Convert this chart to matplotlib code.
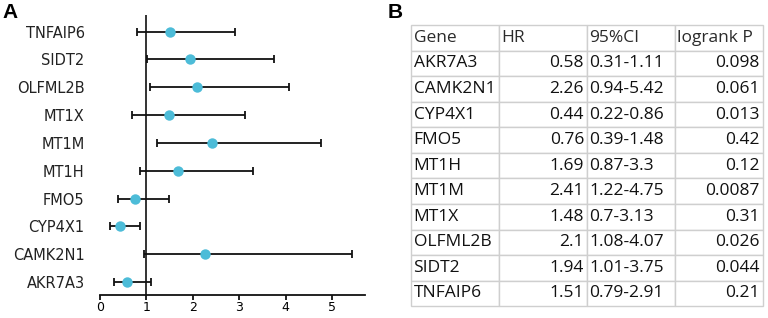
import matplotlib
matplotlib.use('Agg')
import matplotlib.pyplot as plt

genes = ['AKR7A3', 'CAMK2N1', 'CYP4X1', 'FMO5', 'MT1H', 'MT1M', 'MT1X', 'OLFML2B', 'SIDT2', 'TNFAIP6']
hr = [0.58, 2.26, 0.44, 0.76, 1.69, 2.41, 1.48, 2.1, 1.94, 1.51]
ci_low = [0.31, 0.94, 0.22, 0.39, 0.87, 1.22, 0.7, 1.08, 1.01, 0.79]
ci_high = [1.11, 5.42, 0.86, 1.48, 3.3, 4.75, 3.13, 4.07, 3.75, 2.91]
logrank_p = ['0.098', '0.061', '0.013', '0.42', '0.12', '0.0087', '0.31', '0.026', '0.044', '0.21']
header = ['Gene', 'HR', '95%CI', 'logrank P']
xticks = [0, 1, 2, 3, 4, 5]

fig = plt.figure(figsize=(7.68, 3.18), dpi=100)

# panel A: forest plot
ax = fig.add_axes([0.130, 0.072, 0.345, 0.881])
ypos = list(range(len(genes)))
xerr = [[h - l for h, l in zip(hr, ci_low)], [u - h for h, u in zip(hr, ci_high)]]
ax.errorbar(hr, ypos, xerr=xerr, fmt='none', ecolor='#111111', elinewidth=1.3,
            capsize=3, capthick=1.3, zorder=2)
ax.plot(hr, ypos, 'o', color='#4DBCD8', markersize=7.5, markeredgewidth=0, zorder=3)
ax.axvline(1, color='#111111', lw=1.2, zorder=1)
ax.set_xlim(0, 5.7)
ax.set_ylim(-0.47, 9.6)
ax.set_xticks(xticks)
ax.set_yticks(ypos)
ax.set_yticklabels(genes, fontsize=10.5, family='DejaVu Sans', color='#222222')
ax.tick_params(axis='y', length=0, pad=11)
ax.tick_params(axis='x', length=3.5, width=1.3, labelsize=9, color='#111111', pad=1)
for s in ['top', 'right', 'left']:
    ax.spines[s].set_visible(False)
ax.spines['bottom'].set_linewidth(1.3)
ax.spines['bottom'].set_color('#111111')

fig.text(0.003, 0.99, 'A', fontsize=15, fontweight='bold', va='top', family='Liberation Sans')
fig.text(0.505, 0.99, 'B', fontsize=15, fontweight='bold', va='top', family='Liberation Sans')

# panel B: table
tax = fig.add_axes([0, 0, 1, 1])
tax.axis('off')
rows = [header]
for g, h, l, u, p in zip(genes, hr, ci_low, ci_high, logrank_p):
    rows.append([g, str(h), f'{l}-{u}', p])
tbl = tax.table(cellText=rows, bbox=[0.535, 0.037, 0.458, 0.884], cellLoc='left')
tbl.auto_set_font_size(False)
for (r, c), cell in tbl.get_celld().items():
    cell.set_edgecolor('#CFCFCF')
    cell.set_linewidth(1.0)
    txt = cell.get_text()
    txt.set_fontsize(12.5)
    txt.set_family(['Open Sans', 'DejaVu Sans'])
    txt.set_color('#111111')
    if r == 0:
        txt.set_color('#2A2A2A')
    if r > 0 and c in (1, 3):
        txt.set_ha('right')
        cell._loc = 'right'
    cell.PAD = 0.03

fig.savefig('out.png', dpi=100)
